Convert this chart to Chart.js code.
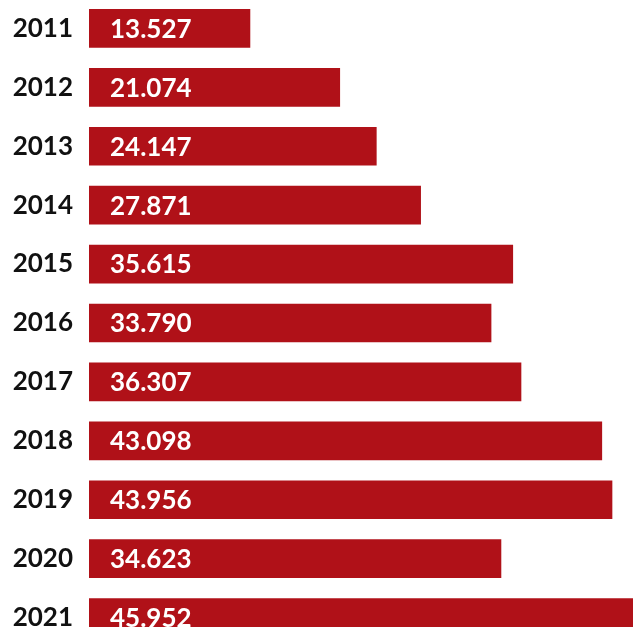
<!DOCTYPE html>
<html lang="de"><head><meta charset="utf-8">
<title>Balken 2011-2021</title>
<script src="https://cdn.jsdelivr.net/npm/chart.js"></script>
<style>
  html, body { margin: 0; padding: 0; background: #fff; overflow: hidden; }
  .wrap { position: relative; width: 633px; height: 627px; overflow: hidden; }
  .wrap canvas { position: absolute; left: 0; top: -1px; }
</style>
</head>
<body>
<div class="wrap">
  <canvas id="chart" width="633" height="648"></canvas>
</div>
<script>
  const years = ['2011', '2012', '2013', '2014', '2015', '2016', '2017', '2018', '2019', '2020', '2021'];
  const values = [13527, 21074, 24147, 27871, 35615, 33790, 36307, 43098, 43956, 34623, 45952];

  const barColor = '#b01118';

  // Tausenderpunkt wie im Original
  function fmt(v) {
    return String(v).replace(/\B(?=(\d{3})+(?!\d))/g, '.');
  }

  // Werte weiss in den Balken schreiben
  const valueLabels = {
    id: 'valueLabels',
    afterDatasetsDraw(chart) {
      const ctx = chart.ctx;
      const meta = chart.getDatasetMeta(0);
      ctx.save();
      ctx.fillStyle = '#ffffff';
      ctx.font = 'bold 26px Lato';
      ctx.textBaseline = 'middle';
      ctx.textAlign = 'left';
      meta.data.forEach((bar, i) => {
        ctx.fillText(fmt(values[i]), bar.base + 21, bar.y + 1);
      });
      ctx.restore();
    }
  };

  new Chart(document.getElementById('chart'), {
    type: 'bar',
    data: {
      labels: years,
      datasets: [{
        data: values,
        backgroundColor: barColor,
        borderWidth: 0,
        barThickness: 38
      }]
    },
    options: {
      indexAxis: 'y',
      responsive: false,
      animation: false,
      layout: { padding: 0 },
      plugins: { legend: { display: false }, tooltip: { enabled: false } },
      scales: {
        // letzter Balken läuft im Original über den Rand hinaus
        x: { display: false, min: 0, max: 45720 },
        y: {
          grid: { display: false, drawTicks: false },
          border: { display: false },
          afterFit(scale) {
            scale.width = 89;
            scale.paddingTop = 0;
            scale.paddingBottom = 0;
          },
          ticks: {
            padding: 16,
            color: '#111111',
            font: { family: 'Lato', size: 26, weight: 'bold' }
          }
        }
      }
    },
    plugins: [valueLabels]
  });
</script>
</body>
</html>
